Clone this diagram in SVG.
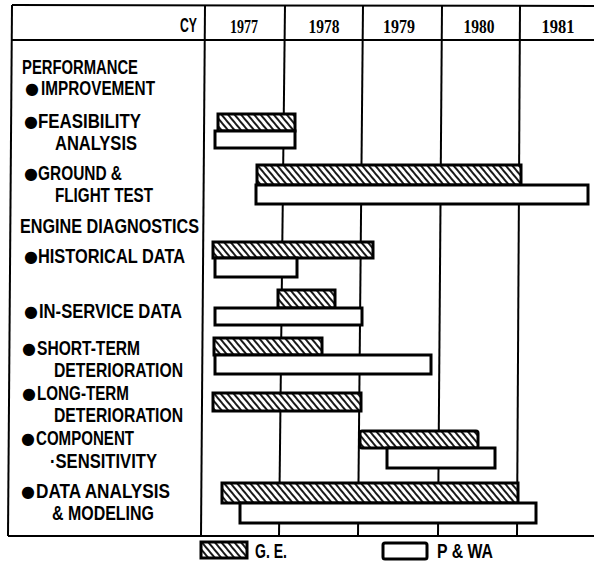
<svg xmlns="http://www.w3.org/2000/svg" width="594" height="564" viewBox="0 0 594 564">
<style>
.g{stroke:#000;stroke-width:2;fill:none}
.bar{stroke:#000;stroke-width:3}
.ge{fill:url(#hatch)}
.pw{fill:#fff}
.t{font-family:"Liberation Sans",Arial,sans-serif;font-weight:bold;font-size:20px;fill:#000}
.y{font-family:"Liberation Serif","Times New Roman",serif;font-weight:bold;font-size:19px;fill:#000;text-anchor:middle}
.b{font-family:"DejaVu Sans",sans-serif;font-size:16px;fill:#000}
</style>
<defs>
<pattern id="hatch" patternUnits="userSpaceOnUse" width="5" height="10" patternTransform="rotate(-40)">
<rect width="5" height="10" fill="#fff"/>
<line x1="1" y1="-1" x2="1" y2="11" stroke="#000" stroke-width="1.8"/>
</pattern>
</defs>
<rect width="594" height="564" fill="#fff"/>
<g id="grid">
<line class="g" x1="12" y1="5" x2="594" y2="6"/>
<line class="g" x1="12" y1="40" x2="594" y2="40"/>
<line class="g" x1="8" y1="536" x2="594" y2="536"/>
<line class="g" x1="12" y1="5" x2="8" y2="536"/>
<line class="g" x1="205" y1="5" x2="201" y2="536"/>
<line class="g" x1="285" y1="5" x2="279" y2="536"/>
<line class="g" x1="363" y1="5" x2="358" y2="536"/>
<line class="g" x1="442" y1="5" x2="438" y2="536"/>
<line class="g" x1="520" y1="5" x2="517" y2="536"/>
</g>
<g id="header">
<text class="t" x="180" y="32" font-size="18" textLength="17" lengthAdjust="spacingAndGlyphs">CY</text>
<text class="y" x="244" y="33" textLength="28" lengthAdjust="spacingAndGlyphs">1977</text>
<text class="y" x="324" y="33" textLength="31" lengthAdjust="spacingAndGlyphs">1978</text>
<text class="y" x="399" y="33" textLength="32" lengthAdjust="spacingAndGlyphs">1979</text>
<text class="y" x="479" y="33" textLength="31" lengthAdjust="spacingAndGlyphs">1980</text>
<text class="y" x="558" y="33" textLength="33" lengthAdjust="spacingAndGlyphs">1981</text>
</g>
<g id="performance">
<text class="t" x="22" y="74" textLength="116" lengthAdjust="spacingAndGlyphs">PERFORMANCE</text>
<text class="b" x="25" y="94">●</text>
<text class="t" x="41" y="95" textLength="114" lengthAdjust="spacingAndGlyphs">IMPROVEMENT</text>
</g>
<g id="feasibility">
<text class="b" x="24" y="127">●</text>
<text class="t" x="38" y="128" textLength="103" lengthAdjust="spacingAndGlyphs">FEASIBILITY</text>
<text class="t" x="55" y="150" textLength="82" lengthAdjust="spacingAndGlyphs">ANALYSIS</text>
<rect class="bar ge" x="218" y="114" width="77" height="17"/>
<rect class="bar pw" x="215" y="131" width="80" height="17"/>
</g>
<g id="ground-flight">
<text class="b" x="24" y="179">●</text>
<text class="t" x="38" y="180" textLength="84" lengthAdjust="spacingAndGlyphs">GROUND &amp;</text>
<text class="t" x="55" y="202" textLength="98" lengthAdjust="spacingAndGlyphs">FLIGHT TEST</text>
<rect class="bar ge" x="257" y="165" width="264" height="20"/>
<rect class="bar pw" x="256" y="185" width="332" height="19"/>
</g>
<g id="engine-diagnostics">
<text class="t" x="20" y="233" textLength="179" lengthAdjust="spacingAndGlyphs">ENGINE DIAGNOSTICS</text>
</g>
<g id="historical">
<text class="b" x="24" y="262">●</text>
<text class="t" x="38" y="263" textLength="147" lengthAdjust="spacingAndGlyphs">HISTORICAL DATA</text>
<rect class="bar ge" x="213" y="242" width="160" height="16"/>
<rect class="bar pw" x="215" y="258" width="82" height="19"/>
</g>
<g id="in-service">
<text class="b" x="24" y="317">●</text>
<text class="t" x="39" y="318" textLength="143" lengthAdjust="spacingAndGlyphs">IN-SERVICE DATA</text>
<rect class="bar ge" x="278" y="290" width="57" height="18"/>
<rect class="bar pw" x="215" y="308" width="147" height="17"/>
</g>
<g id="short-term">
<text class="b" x="22" y="354">●</text>
<text class="t" x="37" y="355" textLength="103" lengthAdjust="spacingAndGlyphs">SHORT-TERM</text>
<text class="t" x="54" y="377" textLength="129" lengthAdjust="spacingAndGlyphs">DETERIORATION</text>
<rect class="bar ge" x="214" y="338" width="108" height="17"/>
<rect class="bar pw" x="215" y="355" width="216" height="19"/>
</g>
<g id="long-term">
<text class="b" x="22" y="399">●</text>
<text class="t" x="37" y="400" textLength="92" lengthAdjust="spacingAndGlyphs">LONG-TERM</text>
<text class="t" x="54" y="422" textLength="129" lengthAdjust="spacingAndGlyphs">DETERIORATION</text>
<rect class="bar ge" x="213" y="393" width="148" height="18"/>
</g>
<g id="component">
<text class="b" x="21" y="444">●</text>
<text class="t" x="36" y="445" textLength="98" lengthAdjust="spacingAndGlyphs">COMPONENT</text>
<text class="t" x="50" y="468" textLength="107" lengthAdjust="spacingAndGlyphs">·SENSITIVITY</text>
<rect class="bar ge" x="360" y="431" width="118" height="17" rx="2"/>
<rect class="bar pw" x="387" y="448" width="108" height="20"/>
</g>
<g id="data-analysis">
<text class="b" x="21" y="497">●</text>
<text class="t" x="36" y="498" textLength="134" lengthAdjust="spacingAndGlyphs">DATA ANALYSIS</text>
<text class="t" x="52" y="520" textLength="102" lengthAdjust="spacingAndGlyphs">&amp; MODELING</text>
<rect class="bar ge" x="222" y="483" width="296" height="20"/>
<rect class="bar pw" x="240" y="503" width="296" height="20"/>
</g>
<g id="legend">
<rect class="bar ge" x="201" y="542" width="46" height="16"/>
<text class="t" x="255" y="558" textLength="32" lengthAdjust="spacingAndGlyphs">G. E.</text>
<rect class="bar pw" x="383" y="543" width="44" height="16" rx="2"/>
<text class="t" x="437" y="558" textLength="56" lengthAdjust="spacingAndGlyphs">P &amp; WA</text>
</g>
</svg>
